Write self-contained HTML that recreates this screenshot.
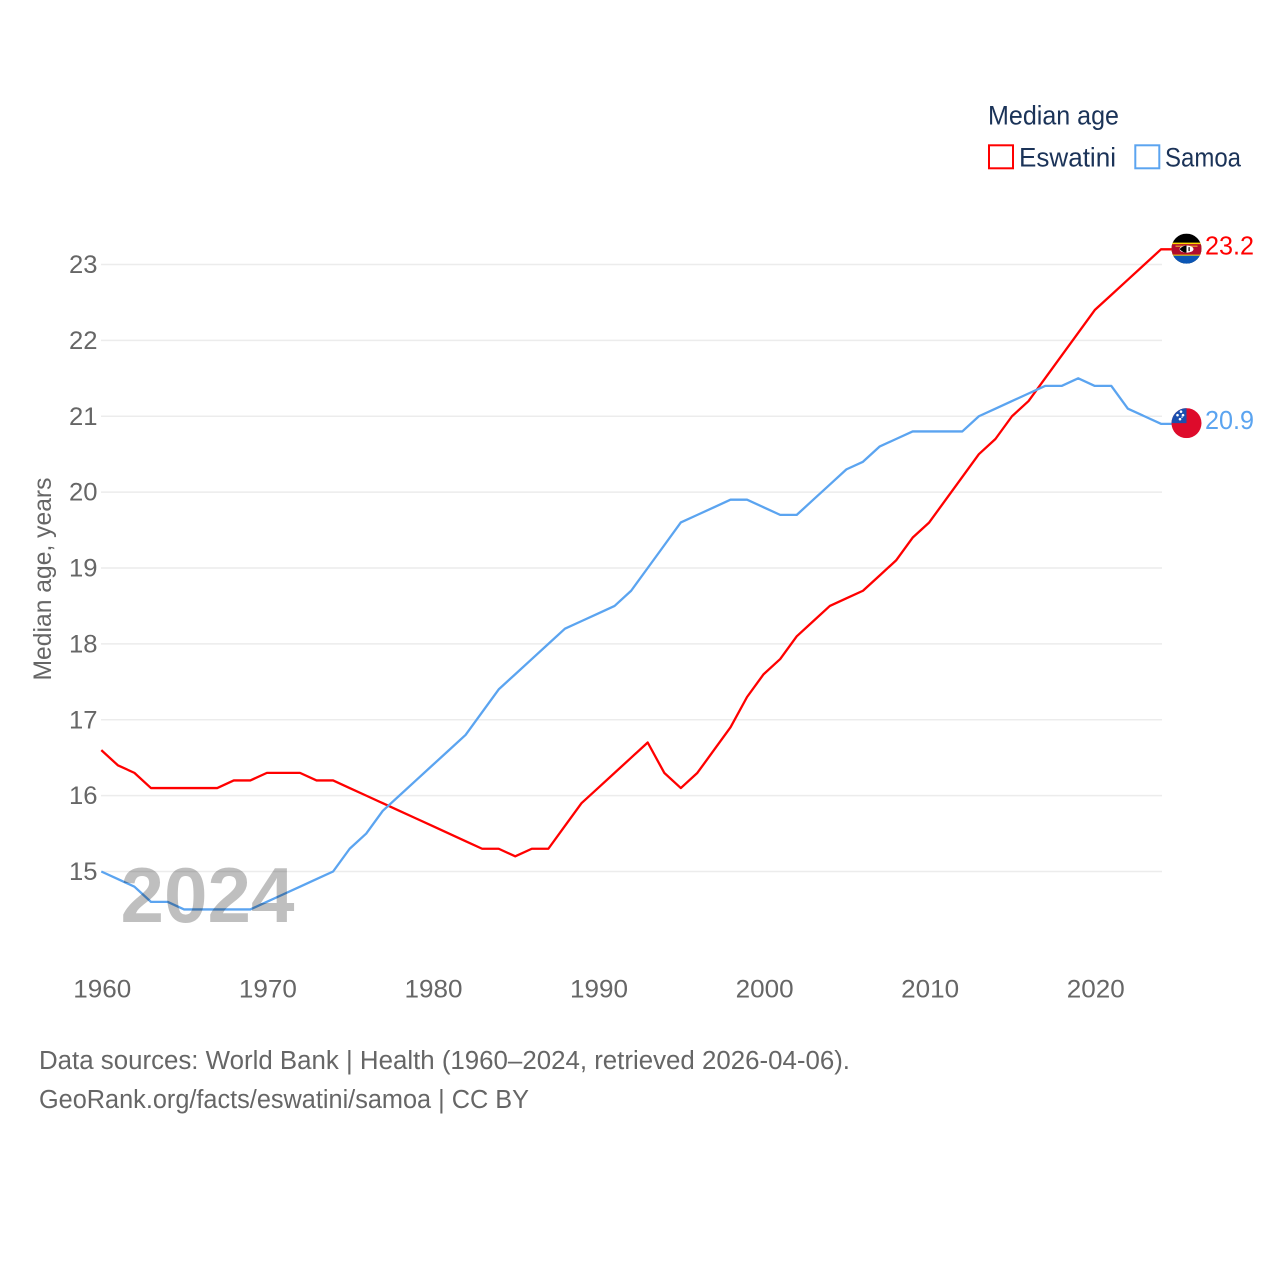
<!DOCTYPE html>
<html lang="en">
<head>
<meta charset="utf-8">
<title>Median age: Eswatini and Samoa</title>
<style>
html,body{margin:0;padding:0;background:#fff;}
svg{display:block;font-family:"Liberation Sans",Arial,sans-serif;}
</style>
</head>
<body>
<svg id="chart" xmlns="http://www.w3.org/2000/svg" width="1280" height="1280" viewBox="0 0 1280 1280">
  <defs>
    <clipPath id="flag-clip"><circle cx="0" cy="0" r="15"></circle></clipPath>
  </defs>
  <rect width="1280" height="1280" fill="#fff"></rect>

  <g id="grid"></g>
  <g id="y-ticks"></g>
  <g id="x-ticks"></g>
  <text transform="translate(51,579) rotate(-90)" text-anchor="middle" font-size="25" fill="#666" textLength="203" lengthAdjust="spacingAndGlyphs">Median age, years</text>

  <g id="lines"></g>

  <text x="120.5" y="922" font-size="78" font-weight="700" fill="#000" fill-opacity="0.25" textLength="174" lengthAdjust="spacingAndGlyphs">2024</text>

  <g id="flag-eswatini">
    <g clip-path="url(#flag-clip)">
      <rect x="-15" y="-15" width="30" height="30" fill="#000"></rect>
      <rect x="-15" y="-6" width="30" height="13.5" fill="#ffd900"></rect>
      <rect x="-15" y="-4.5" width="30" height="10.5" fill="#b10c2c"></rect>
      <rect x="-15" y="7" width="30" height="8.5" fill="#0b56b5"></rect>
      <rect x="-11" y="-3" width="22" height="1.2" fill="#e8a030"></rect>
      <ellipse cx="0" cy="0.5" rx="7" ry="3.6" fill="#fff"></ellipse>
      <path d="M-7 0.5 Q-3.5 -3.1 0 -3.1 L0 4.1 Q-3.5 4.1 -7 0.5Z" fill="#000"></path>
      <rect x="2" y="-1.5" width="1.2" height="4" fill="#000"></rect>
    </g>
  </g>
  <g id="flag-samoa">
    <g clip-path="url(#flag-clip)">
      <rect x="-15" y="-15" width="30" height="30" fill="#de0b2b"></rect>
      <rect x="-15" y="-15" width="15" height="15" fill="#1b4fae"></rect>
      <circle cx="-5.5" cy="-11.5" r="1.3" fill="#fff"></circle>
      <circle cx="-9" cy="-8" r="1.3" fill="#fff"></circle>
      <circle cx="-3.5" cy="-8" r="1.3" fill="#fff"></circle>
      <circle cx="-6.5" cy="-4" r="1.3" fill="#fff"></circle>
      <circle cx="-4.5" cy="-6" r="0.7" fill="#fff"></circle>
    </g>
  </g>
  <text id="value-eswatini" x="1205" font-size="25.5" fill="#ff0000" textLength="49" lengthAdjust="spacingAndGlyphs"></text>
  <text id="value-samoa" x="1205" font-size="25.5" fill="#5ba4f0" textLength="49" lengthAdjust="spacingAndGlyphs"></text>

  <g>
    <text x="988" y="124.5" font-size="26.5" fill="#1b3358" textLength="131" lengthAdjust="spacingAndGlyphs">Median age</text>
    <g>
      <rect x="989" y="145.3" width="24" height="23" fill="#fff" stroke="#ff0000" stroke-width="2"></rect>
      <text x="1019" y="166.5" font-size="26.5" fill="#1b3358" textLength="97" lengthAdjust="spacingAndGlyphs">Eswatini</text>
    </g>
    <g>
      <rect x="1135.3" y="145.3" width="24" height="23" fill="#fff" stroke="#5ba4f0" stroke-width="2"></rect>
      <text x="1165" y="166.5" font-size="26.5" fill="#1b3358" textLength="76" lengthAdjust="spacingAndGlyphs">Samoa</text>
    </g>
  </g>

  <text x="39" y="1069" font-size="25.5" fill="#666" textLength="811" lengthAdjust="spacingAndGlyphs">Data sources: World Bank | Health (1960–2024, retrieved 2026-04-06).</text>
  <text x="39" y="1108" font-size="25.5" fill="#666" textLength="490" lengthAdjust="spacingAndGlyphs">GeoRank.org/facts/eswatini/samoa | CC BY</text>
</svg>
<script>
var firstYear = 1960;
var eswatiniValues = [16.6,16.4,16.3,16.1,16.1,16.1,16.1,16.1,16.2,16.2,16.3,16.3,16.3,16.2,16.2,16.1,16.0,15.9,15.8,15.7,15.6,15.5,15.4,15.3,15.3,15.2,15.3,15.3,15.6,15.9,16.1,16.3,16.5,16.7,16.3,16.1,16.3,16.6,16.9,17.3,17.6,17.8,18.1,18.3,18.5,18.6,18.7,18.9,19.1,19.4,19.6,19.9,20.2,20.5,20.7,21.0,21.2,21.5,21.8,22.1,22.4,22.6,22.8,23.0,23.2];
var samoaValues = [15.0,14.9,14.8,14.6,14.6,14.5,14.5,14.5,14.5,14.5,14.6,14.7,14.8,14.9,15.0,15.3,15.5,15.8,16.0,16.2,16.4,16.6,16.8,17.1,17.4,17.6,17.8,18.0,18.2,18.3,18.4,18.5,18.7,19.0,19.3,19.6,19.7,19.8,19.9,19.9,19.8,19.7,19.7,19.9,20.1,20.3,20.4,20.6,20.7,20.8,20.8,20.8,20.8,21.0,21.1,21.2,21.3,21.4,21.4,21.5,21.4,21.4,21.1,21.0,20.9];
var yTickLabels = [15,16,17,18,19,20,21,22,23];
var xTickLabels = [1960,1970,1980,1990,2000,2010,2020];

var SVG_NS = 'http://www.w3.org/2000/svg';
function xScale(year) { return 101.3 + (year - 1960) * (1161 - 101.3) / 64; }
function yScale(value) { return 871.5 - (value - 15) * (871.5 - 264.5) / 8; }
function make(tag, parent, attrs) {
  var el = document.createElementNS(SVG_NS, tag);
  for (var k in attrs) { el.setAttribute(k, attrs[k]); }
  parent.appendChild(el);
  return el;
}

var gridGroup = document.getElementById('grid');
var yTickGroup = document.getElementById('y-ticks');
yTickLabels.forEach(function (tick) {
  var py = yScale(tick);
  var gl = make('line', gridGroup, {x1: 101, x2: 1162, y1: py, y2: py, stroke: '#ececec', 'stroke-width': 1.6});
  
  
  var t = make('text', yTickGroup, {x: 97.5, y: py + 8.5, 'text-anchor': 'end', 'font-size': 25, fill: '#666', textLength: 28.5, lengthAdjust: 'spacingAndGlyphs'});
  
  
  t.textContent = tick;
});

var xTickGroup = document.getElementById('x-ticks');
xTickLabels.forEach(function (tick) {
  var t = make('text', xTickGroup, {x: xScale(tick) + 1, y: 997.5, 'text-anchor': 'middle', 'font-size': 25, fill: '#666', textLength: 58, lengthAdjust: 'spacingAndGlyphs'});
  
  
  t.textContent = tick;
});

function drawSeries(values, color, parent, name) {
  var pts = values.map(function (v, i) {
    return xScale(firstYear + i).toFixed(2) + ',' + yScale(v).toFixed(2);
  });
  var last = values[values.length - 1];
  pts.push('1172,' + yScale(last).toFixed(2));
  var line = make('polyline', parent, {points: pts.join(' '), fill: 'none', stroke: color, 'stroke-width': 2.3, 'stroke-linejoin': 'round'});
  
  
  return last;
}

var linesGroup = document.getElementById('lines');
var lastEswatini = drawSeries(eswatiniValues, '#ff0000', linesGroup, 'eswatini-line');
var lastSamoa = drawSeries(samoaValues, '#5ba4f0', linesGroup, 'samoa-line');

function placeEnd(flagId, labelId, value) {
  var py = yScale(value) - 0.7;
  document.getElementById(flagId).setAttribute('transform', 'translate(1186.5,' + py + ')');
  var label = document.getElementById(labelId);
  label.setAttribute('y', py + 6);
  label.textContent = value.toFixed(1);
}
placeEnd('flag-eswatini', 'value-eswatini', lastEswatini);
placeEnd('flag-samoa', 'value-samoa', lastSamoa);
</script>
</body>
</html>
